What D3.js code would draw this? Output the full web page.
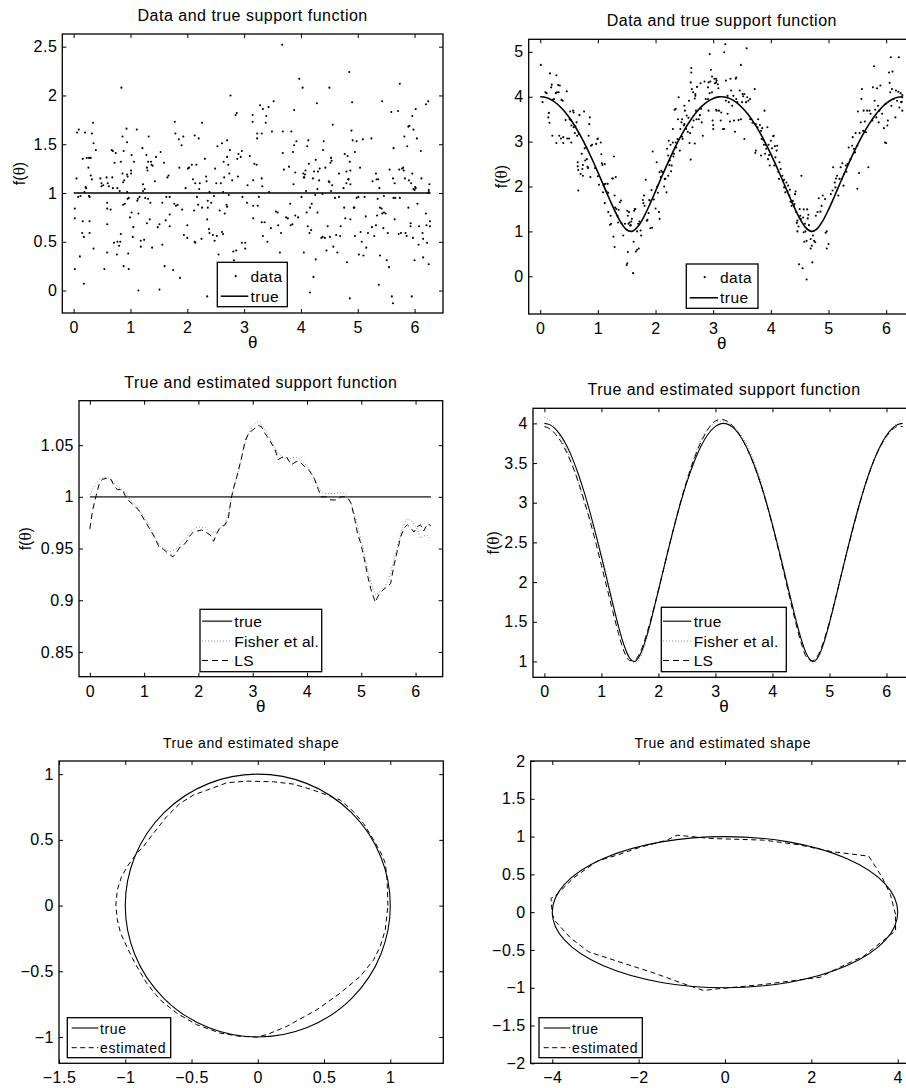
<!DOCTYPE html>
<html><head><meta charset="utf-8">
<script src="https://cdn.jsdelivr.net/npm/d3@7"></script>
<style>
body{margin:0;background:#fff;}
svg text{font-family:"Liberation Sans",Arial,Helvetica,sans-serif;fill:#000;}
</style></head><body>
<script>
// ---------------- DATA ----------------
// Panel 1: noisy data around a unit circle support function (theta, f)
const p1Points = [[0.02,0.84],[0.02,0.74],[0.02,0.22],[0.05,1.15],[0.06,1.62],[0.09,1.65],[0.11,0.35],[0.08,0.96],[0.12,0.97],[0.16,1.35],[0.16,0.71],[0.15,0.59],[0.18,0.55],[0.18,0.07],[0.19,1.01],[0.20,1.62],[0.21,1.06],[0.22,1.05],[0.23,1.36],[0.26,1.26],[0.27,1.36],[0.27,0.97],[0.28,0.96],[0.28,0.71],[0.28,0.59],[0.30,1.36],[0.30,1.18],[0.32,1.14],[0.32,1.61],[0.34,1.72],[0.35,1.51],[0.35,0.43],[0.39,1.44],[0.47,1.15],[0.49,1.10],[0.49,1.07],[0.52,1.08],[0.54,0.22],[0.58,1.16],[0.59,0.90],[0.59,0.84],[0.59,0.68],[0.59,0.39],[0.60,1.10],[0.62,1.07],[0.65,0.83],[0.67,1.44],[0.68,1.16],[0.69,1.43],[0.69,1.05],[0.71,0.49],[0.72,1.31],[0.74,1.41],[0.76,0.37],[0.77,0.50],[0.77,1.05],[0.80,0.46],[0.81,1.02],[0.82,0.50],[0.83,1.32],[0.83,0.58],[0.84,2.08],[0.86,1.58],[0.86,1.20],[0.87,1.11],[0.87,0.88],[0.88,1.43],[0.88,0.25],[0.89,1.13],[0.90,0.89],[0.93,1.66],[0.94,1.52],[0.94,1.01],[0.94,1.19],[0.95,0.94],[0.95,1.17],[0.96,0.38],[0.97,0.22],[0.97,0.95],[0.99,0.75],[1.01,1.23],[1.01,1.20],[1.02,1.39],[1.02,0.80],[1.04,0.55],[1.05,0.65],[1.06,1.32],[1.11,1.65],[1.12,0.92],[1.13,0.94],[1.14,0.00],[1.14,0.79],[1.16,0.96],[1.18,0.45],[1.18,0.51],[1.21,1.46],[1.22,1.02],[1.22,1.09],[1.24,0.52],[1.25,1.04],[1.26,0.95],[1.28,1.39],[1.29,1.26],[1.29,0.69],[1.30,1.23],[1.31,1.32],[1.31,0.94],[1.32,1.58],[1.34,0.73],[1.35,0.90],[1.36,1.32],[1.37,1.29],[1.38,0.44],[1.39,1.28],[1.43,1.12],[1.45,1.37],[1.48,0.65],[1.51,0.01],[1.51,0.68],[1.53,1.42],[1.56,0.90],[1.56,0.47],[1.59,1.31],[1.60,0.25],[1.62,0.72],[1.63,0.96],[1.65,1.16],[1.67,1.18],[1.69,0.78],[1.69,0.96],[1.69,0.66],[1.75,0.21],[1.77,0.89],[1.78,1.73],[1.79,1.61],[1.80,0.87],[1.83,0.88],[1.85,1.55],[1.86,1.26],[1.87,0.13],[1.90,1.49],[1.91,0.83],[1.93,1.58],[1.94,0.57],[1.97,1.05],[2.00,0.54],[2.00,0.67],[2.01,1.25],[2.03,1.26],[2.08,1.29],[2.10,1.14],[2.12,0.82],[2.13,1.59],[2.13,0.50],[2.14,0.49],[2.14,1.10],[2.16,1.29],[2.17,0.96],[2.19,0.88],[2.20,1.56],[2.21,1.04],[2.22,1.10],[2.25,0.53],[2.26,1.72],[2.26,0.85],[2.31,1.35],[2.33,1.17],[2.34,1.12],[2.35,-0.06],[2.35,0.73],[2.36,0.92],[2.36,0.85],[2.38,0.63],[2.39,0.59],[2.39,1.01],[2.42,0.90],[2.45,0.57],[2.47,0.97],[2.48,0.51],[2.49,1.25],[2.51,1.10],[2.52,0.56],[2.53,1.48],[2.55,0.37],[2.57,0.82],[2.59,1.10],[2.61,1.51],[2.61,0.60],[2.63,1.01],[2.63,0.58],[2.64,1.32],[2.65,1.16],[2.66,0.79],[2.69,0.88],[2.70,1.37],[2.70,0.86],[2.70,1.54],[2.72,1.29],[2.73,0.98],[2.74,1.20],[2.75,1.44],[2.76,2.00],[2.79,1.13],[2.81,0.40],[2.82,0.31],[2.85,1.80],[2.86,0.41],[2.87,1.82],[2.88,1.35],[2.89,1.17],[2.90,1.40],[2.94,1.37],[2.96,1.43],[2.96,0.49],[2.97,0.96],[3.02,0.49],[3.02,0.43],[3.05,0.90],[3.06,1.08],[3.10,1.38],
[3.15,1.80],[3.15,1.73],[3.23,1.61],[3.23,1.56],[3.18,1.30],[3.22,1.29],[3.16,1.13],[3.31,1.15],[3.31,1.61],[3.28,1.90],[3.33,1.86],[3.39,1.79],[3.38,1.72],[3.43,1.88],[3.49,1.63],[3.52,1.94],[3.32,1.07],[3.44,1.01],[3.26,0.96],[3.16,0.87],[3.24,0.87],[3.16,0.74],[3.31,0.70],[3.36,0.70],[3.33,0.56],[3.41,0.50],[3.47,0.64],[3.56,0.81],[3.59,0.80],[3.60,0.67],[3.63,0.39],[3.65,0.59],[3.67,2.52],[3.68,1.63],[3.68,1.41],[3.70,1.24],[3.74,0.75],[3.77,0.74],[3.79,1.27],[3.81,0.89],[3.82,0.67],[3.83,1.63],[3.85,0.68],[3.86,1.42],[3.87,1.09],[3.88,1.85],[3.88,1.49],[3.90,0.77],[3.90,1.21],[3.92,1.53],[3.95,0.75],[3.97,2.17],[4.01,0.96],[4.03,2.08],[4.04,1.20],[4.05,1.16],[4.05,0.39],[4.06,1.16],[4.07,1.19],[4.08,1.23],[4.09,1.02],[4.10,0.80],[4.11,1.48],[4.12,0.66],[4.13,1.54],[4.14,1.30],[4.15,0.59],[4.16,-0.02],[4.16,0.85],[4.18,0.62],[4.19,0.89],[4.21,1.15],[4.22,0.14],[4.23,1.22],[4.25,0.98],[4.26,0.32],[4.26,1.34],[4.28,1.92],[4.29,1.04],[4.29,0.80],[4.30,1.22],[4.32,1.13],[4.33,1.25],[4.36,0.54],[4.38,0.99],[4.38,0.55],[4.39,1.44],[4.40,1.53],[4.42,0.54],[4.43,1.26],[4.45,0.41],[4.47,0.66],[4.49,1.12],[4.50,1.11],[4.50,2.08],[4.51,0.55],[4.52,1.31],[4.53,1.02],[4.53,1.36],[4.54,1.33],[4.55,1.08],[4.56,1.70],[4.57,0.45],[4.60,0.95],[4.62,0.57],[4.64,0.39],[4.67,0.96],[4.67,1.20],[4.69,0.56],[4.70,0.66],[4.75,1.05],[4.76,0.85],[4.77,1.40],[4.78,0.74],[4.80,1.10],[4.80,1.22],[4.81,0.29],[4.82,1.38],[4.83,1.14],[4.84,1.14],[4.85,2.24],[4.86,1.32],[4.86,-0.08],[4.87,1.09],[4.87,0.73],[4.87,1.23],[4.89,1.64],[4.90,1.93],[4.91,1.54],[4.93,0.85],[4.94,0.85],[4.95,1.42],[4.95,0.56],[4.98,1.53],[4.98,0.95],[5.01,0.96],[5.02,0.37],[5.04,1.26],[5.05,0.60],[5.07,0.50],[5.09,1.55],[5.10,0.36],[5.12,0.96],[5.14,0.76],[5.15,0.44],[5.18,0.59],[5.24,1.56],[5.25,0.65],[5.26,1.12],[5.29,0.56],[5.32,1.20],[5.32,0.67],[5.33,1.14],[5.34,0.77],[5.35,0.94],[5.36,1.14],[5.37,0.06],[5.38,1.05],[5.39,0.36],[5.39,0.85],[5.42,0.84],[5.43,0.79],[5.43,1.94],[5.45,0.64],[5.46,0.97],[5.46,0.80],[5.49,0.79],[5.51,0.31],[5.53,0.59],[5.55,0.24],[5.56,1.24],[5.59,1.83],[5.60,-0.06],[5.62,1.15],[5.62,-0.13],[5.63,1.46],[5.63,0.95],[5.65,1.10],[5.65,0.73],[5.66,0.95],[5.71,1.84],[5.72,0.58],[5.73,1.24],[5.74,0.95],[5.74,2.12],[5.76,0.59],[5.78,1.25],[5.80,1.26],[5.81,1.23],[5.82,1.58],[5.83,1.15],[5.84,0.59],[5.86,0.56],[5.87,1.48],[5.89,1.68],[5.89,0.85],[5.90,1.13],[5.91,1.69],[5.93,0.66],[5.93,0.69],[5.94,1.10],[5.95,-0.06],[5.96,1.79],[5.96,1.20],[5.97,0.54],[5.98,1.04],[5.98,1.65],[6.00,1.03],[6.00,0.31],[6.01,1.06],[6.02,1.05],[6.02,1.86],[6.04,1.56],[6.05,0.89],[6.07,0.47],[6.08,0.66],[6.11,1.43],[6.12,1.15],[6.14,0.59],[6.15,0.53],[6.15,0.34],[6.20,0.79],[6.20,1.91],[6.21,0.67],[6.22,0.49],[6.24,1.94],[6.24,1.00],[6.25,1.01],[6.25,1.03],[6.26,1.09],[6.27,0.71],[6.27,0.66],[6.25,0.27]];
const p1TrueTheta = [0, 6.2832];
const p1TrueValue = [1, 1];

// Panel 2: noisy data around the support function of a 4x1 ellipse (theta, f)
const p2Points = [[0.01,4.71],[0.04,3.88],[0.09,4.10],[0.11,4.08],[0.14,3.54],[0.15,3.64],[0.16,3.42],[0.17,4.52],[0.19,4.21],[0.20,4.27],[0.21,3.13],[0.22,3.93],[0.24,3.95],[0.27,4.08],[0.28,4.48],[0.28,2.97],[0.29,4.10],[0.31,4.26],[0.32,4.10],[0.33,3.13],[0.34,4.25],[0.36,3.07],[0.37,3.93],[0.39,3.91],[0.40,2.97],[0.40,3.10],[0.44,3.48],[0.46,4.12],[0.47,3.07],[0.50,3.07],[0.51,3.50],[0.52,3.67],[0.53,3.48],[0.54,2.98],[0.54,3.36],[0.57,3.69],[0.58,3.65],[0.58,3.32],[0.60,3.19],[0.61,3.34],[0.63,3.43],[0.64,3.13],[0.65,2.54],[0.65,2.45],[0.66,2.37],[0.66,1.91],[0.67,3.17],[0.68,3.59],[0.70,2.28],[0.72,2.73],[0.73,2.39],[0.74,2.48],[0.74,2.24],[0.76,3.67],[0.77,2.85],[0.78,2.58],[0.80,2.87],[0.81,2.61],[0.82,2.44],[0.83,2.41],[0.84,3.13],[0.85,3.39],[0.86,3.54],[0.87,2.21],[0.88,2.91],[0.90,2.93],[0.95,2.41],[0.97,2.95],[0.99,3.06],[1.00,3.07],[1.00,2.23],[1.02,2.04],[1.05,2.98],[1.06,2.72],[1.07,2.52],[1.08,2.48],[1.09,1.87],[1.10,2.03],[1.11,2.05],[1.12,1.63],[1.12,2.50],[1.13,2.06],[1.15,1.89],[1.17,2.06],[1.18,1.86],[1.18,1.43],[1.21,1.15],[1.22,1.35],[1.23,1.17],[1.25,2.18],[1.26,2.18],[1.27,0.88],[1.28,2.67],[1.29,0.65],[1.29,1.80],[1.30,1.53],[1.31,2.21],[1.32,1.50],[1.34,1.35],[1.35,1.20],[1.36,1.48],[1.38,1.65],[1.40,1.69],[1.41,1.18],[1.44,0.91],[1.47,1.17],[1.50,0.25],[1.51,0.29],[1.51,1.46],[1.52,1.35],[1.52,0.54],[1.53,1.17],[1.54,1.43],[1.55,1.20],[1.56,1.13],[1.57,1.14],[1.58,1.22],[1.59,1.28],[1.61,0.07],[1.62,0.77],[1.63,1.46],[1.64,1.50],[1.65,1.50],[1.66,0.55],[1.68,1.00],[1.68,0.59],[1.70,1.17],[1.71,0.62],[1.72,1.22],[1.74,1.02],[1.75,0.91],[1.78,1.70],[1.79,1.63],[1.80,1.80],[1.81,1.57],[1.83,2.15],[1.85,1.24],[1.86,1.26],[1.88,1.41],[1.89,1.70],[1.90,1.69],[1.91,1.07],[1.93,1.92],[1.94,1.08],[1.95,2.78],[1.97,1.71],[2.00,1.51],[2.02,2.54],[2.03,2.00],[2.04,1.86],[2.06,1.43],[2.07,1.28],[2.07,2.32],[2.09,2.21],[2.10,2.35],[2.12,2.32],[2.15,2.00],[2.16,2.17],[2.17,2.17],[2.19,1.87],[2.20,2.84],[2.22,2.24],[2.22,2.69],[2.23,3.02],[2.24,2.48],[2.25,2.58],[2.26,2.93],[2.27,2.34],[2.28,2.47],[2.30,2.98],[2.30,3.28],[2.31,2.67],[2.32,2.73],[2.33,3.71],[2.34,2.87],[2.35,3.73],[2.35,2.98],[2.36,2.87],[2.38,3.06],[2.39,3.50],[2.40,3.99],[2.42,2.80],[2.43,3.28],[2.45,3.43],[2.46,3.11],[2.46,3.50],[2.47,3.06],[2.49,3.36],[2.50,3.39],[2.50,3.80],[2.51,3.69],[2.53,3.28],[2.54,3.58],[2.56,3.22],[2.57,3.53],[2.58,3.91],[2.59,2.97],[2.60,3.19],[2.61,4.32],[2.61,2.60],[2.62,4.64],[2.62,4.54],[2.63,4.17],[2.64,3.32],[2.65,4.10],[2.66,3.47],[2.68,2.96],[2.68,3.96],[2.69,4.02],[2.69,4.06],[2.70,3.69],[2.71,3.50],[2.72,4.22],[2.75,3.50],[2.77,3.59],[2.78,4.30],[2.79,3.73],[2.80,3.43],[2.82,3.13],[2.85,4.34],[2.87,3.95],[2.91,4.21],[2.91,3.95],[2.92,4.32],[2.92,3.69],[2.94,4.95],[2.94,4.08],[2.95,4.34],[2.96,4.60],[2.98,4.10],[2.98,4.45],[2.99,3.47],[3.00,3.37],[3.00,3.28],[3.02,4.40],[3.03,4.30],[3.05,4.32],[3.05,3.71],
[3.05,4.40],[3.06,4.36],[3.08,4.28],[3.06,3.69],[3.09,4.19],[3.10,3.69],[3.13,3.47],[3.14,3.65],[3.17,3.28],[3.19,3.28],[3.19,4.99],[3.21,5.17],[3.22,4.36],[3.22,3.91],[3.25,4.02],[3.25,3.62],[3.27,3.88],[3.29,3.45],[3.30,4.40],[3.31,4.14],[3.33,3.80],[3.35,4.02],[3.36,3.47],[3.38,3.22],[3.39,4.40],[3.40,4.43],[3.40,3.95],[3.42,3.88],[3.44,3.48],[3.46,4.14],[3.48,3.50],[3.48,4.71],[3.50,3.88],[3.51,4.06],[3.52,4.01],[3.54,4.06],[3.54,3.06],[3.57,3.88],[3.58,5.08],[3.59,3.99],[3.61,3.91],[3.64,3.95],[3.64,3.50],[3.68,3.42],[3.72,4.17],[3.73,2.75],[3.74,2.80],[3.74,3.39],[3.77,3.32],[3.78,3.50],[3.81,3.37],[3.83,2.69],[3.83,3.24],[3.84,3.06],[3.85,3.30],[3.87,3.04],[3.88,2.93],[3.89,3.69],[3.90,2.73],[3.91,2.93],[3.92,2.84],[3.94,3.32],[3.95,2.61],[3.96,2.93],[3.97,2.70],[3.98,2.47],[4.00,3.02],[4.02,2.85],[4.04,3.12],[4.05,3.13],[4.06,2.47],[4.07,2.90],[4.08,2.65],[4.10,2.80],[4.11,2.91],[4.13,2.33],[4.14,2.17],[4.15,2.54],[4.17,2.39],[4.20,2.24],[4.21,2.13],[4.23,1.98],[4.23,2.15],[4.25,1.87],[4.27,2.09],[4.29,1.89],[4.30,2.02],[4.32,1.80],[4.33,1.93],[4.34,1.66],[4.36,1.57],[4.37,1.65],[4.38,1.68],[4.40,1.57],[4.41,1.61],[4.42,1.83],[4.43,1.89],[4.44,1.43],[4.45,1.19],[4.46,1.24],[4.46,1.00],[4.48,1.11],[4.49,0.27],[4.50,1.50],[4.51,1.35],[4.52,1.28],[4.53,2.24],[4.55,0.18],[4.56,1.31],[4.57,1.49],[4.57,0.98],[4.58,0.77],[4.59,1.17],[4.60,1.00],[4.62,0.79],[4.62,-0.07],[4.63,1.49],[4.64,1.29],[4.65,1.37],[4.66,1.14],[4.69,0.83],[4.69,0.62],[4.71,0.68],[4.72,0.31],[4.73,0.91],[4.75,0.79],[4.77,0.76],[4.78,1.35],[4.81,1.43],[4.83,1.74],[4.86,1.44],[4.88,1.57],[4.90,1.80],[4.94,1.72],[4.95,0.97],[4.97,1.00],[4.97,0.62],[5.00,0.72],[5.04,1.83],[5.07,1.91],[5.08,2.43],[5.11,2.09],[5.12,1.98],[5.13,2.18],[5.15,2.24],[5.17,1.80],[5.19,2.17],[5.21,2.43],[5.23,2.17],[5.24,2.52],[5.26,2.02],[5.27,2.28],[5.30,2.47],[5.31,2.33],[5.33,2.50],[5.35,2.87],[5.38,2.61],[5.41,2.91],[5.42,3.10],[5.44,2.84],[5.46,2.76],[5.47,3.19],[5.50,2.91],[5.50,1.95],[5.51,3.67],[5.53,2.30],[5.54,3.19],[5.56,3.43],[5.57,3.95],[5.58,4.17],[5.60,3.24],[5.61,3.69],[5.63,3.45],[5.65,3.21],[5.67,3.69],[5.69,2.43],[5.71,3.69],[5.73,3.62],[5.76,3.47],[5.77,4.21],[5.79,4.68],[5.80,3.91],[5.81,3.71],[5.83,3.54],[5.84,4.19],[5.86,3.80],[5.87,3.43],[5.88,3.69],[5.90,4.25],[5.93,3.62],[5.96,3.30],[5.98,2.98],[5.99,3.84],[6.00,2.97],[6.02,3.36],[6.03,3.47],[6.05,4.54],[6.06,4.31],[6.07,4.10],[6.08,4.88],[6.09,3.80],[6.10,4.17],[6.11,4.56],[6.13,3.95],[6.16,3.54],[6.17,4.14],[6.19,3.91],[6.21,4.11],[6.22,4.88],[6.23,3.76],[6.25,4.08],[6.26,3.88],[6.27,3.89],[6.28,3.99],[6.28,4.04],[6.28,3.69]];

// True support function of the 4x1 ellipse, read at these angles (panels 2 and 4)
const ellTheta = [0,0.1,0.2,0.3,0.4,0.5,0.6,0.7,0.8,0.9,1.0,1.1,1.2,1.3,1.4,1.5,1.5708,1.6,1.7,1.8,1.9,2.0,2.1,2.2,2.3,2.4,2.5,2.6,2.7,2.8,2.9,3.0,3.1,3.1416,3.2,3.3,3.4,3.5,3.6,3.7,3.8,3.9,4.0,4.1,4.2,4.3,4.4,4.5,4.6,4.7,4.7124,4.8,4.9,5.0,5.1,5.2,5.3,5.4,5.5,5.6,5.7,5.8,5.9,6.0,6.1,6.2,6.2832];
const ellTrue = [4.000,3.981,3.925,3.833,3.705,3.543,3.349,3.127,2.878,2.607,2.319,2.021,1.723,1.440,1.197,1.037,1.000,1.006,1.118,1.332,1.602,1.897,2.196,2.489,2.768,3.026,3.260,3.466,3.642,3.784,3.891,3.962,3.997,4.000,3.994,3.953,3.876,3.762,3.614,3.434,3.223,2.984,2.722,2.440,2.146,1.847,1.554,1.291,1.090,1.001,1.000,1.056,1.234,1.486,1.773,2.072,2.369,2.654,2.921,3.166,3.384,3.572,3.729,3.851,3.938,3.987,4.000];

// Panel 3: estimated support functions for the circle
const p3LsTheta = [0,0.05,0.11,0.17,0.23,0.32,0.39,0.45,0.51,0.60,0.66,0.72,0.81,0.90,1.00,1.09,1.18,1.27,1.36,1.45,1.53,1.58,1.67,1.76,1.85,1.91,1.99,2.06,2.16,2.22,2.28,2.34,2.40,2.49,2.55,2.60,2.64,2.71,2.80,2.86,2.93,3.01,3.10,3.16,3.22,3.32,3.41,3.47,3.53,3.62,3.71,3.80,3.87,3.96,4.05,4.14,4.21,4.26,4.35,4.44,4.54,4.63,4.69,4.75,4.81,4.87,4.93,4.99,5.06,5.12,5.18,5.26,5.30,5.36,5.45,5.54,5.60,5.67,5.73,5.79,5.85,5.91,5.97,6.03,6.09,6.15,6.22,6.28];
const p3Ls = [0.969,0.987,1.000,1.012,1.017,1.018,1.017,1.010,1.007,1.007,1.000,0.996,0.992,0.987,0.978,0.970,0.962,0.952,0.949,0.945,0.942,0.945,0.952,0.955,0.963,0.966,0.967,0.968,0.965,0.963,0.957,0.965,0.970,0.973,0.979,0.997,1.007,1.020,1.039,1.054,1.062,1.065,1.069,1.068,1.062,1.054,1.046,1.036,1.038,1.039,1.031,1.034,1.034,1.029,1.025,1.017,1.007,1.000,1.000,0.997,0.997,1.000,1.000,0.999,0.994,0.981,0.965,0.955,0.939,0.923,0.910,0.898,0.903,0.908,0.912,0.916,0.933,0.949,0.962,0.970,0.973,0.970,0.966,0.971,0.973,0.967,0.974,0.972];
const p3FiTheta = [0,0.08,0.17,0.26,0.35,0.45,0.54,0.66,0.75,0.84,0.93,1.03,1.12,1.21,1.30,1.39,1.48,1.58,1.67,1.76,1.85,1.94,2.03,2.13,2.22,2.31,2.40,2.49,2.56,2.61,2.67,2.74,2.81,2.89,2.98,3.07,3.13,3.19,3.28,3.38,3.47,3.56,3.65,3.74,3.83,3.93,4.02,4.11,4.20,4.29,4.38,4.48,4.57,4.66,4.74,4.81,4.88,4.96,5.04,5.12,5.19,5.27,5.33,5.42,5.51,5.60,5.68,5.76,5.85,5.94,6.02,6.09,6.15,6.22,6.28];
const p3Fi = [1.002,1.010,1.017,1.019,1.018,1.013,1.009,1.004,0.997,0.992,0.986,0.978,0.970,0.960,0.952,0.949,0.947,0.949,0.955,0.960,0.966,0.970,0.971,0.970,0.966,0.966,0.970,0.975,0.984,1.000,1.013,1.026,1.042,1.057,1.067,1.072,1.073,1.068,1.060,1.050,1.042,1.038,1.036,1.038,1.038,1.034,1.028,1.020,1.010,1.004,1.003,1.003,1.004,1.004,1.001,0.994,0.983,0.966,0.949,0.929,0.915,0.905,0.908,0.912,0.920,0.939,0.955,0.971,0.979,0.976,0.970,0.960,0.962,0.963,0.958];
const p3TrueTheta = [0, 6.2832];
const p3TrueValue = [1, 1];

// Panel 4: estimated support functions for the ellipse
const p4EstTheta = [0,0.1,0.2,0.3,0.4,0.5,0.6,0.7,0.8,0.9,1.0,1.1,1.2,1.3,1.4,1.5,1.6,1.7,1.8,1.9,2.0,2.1,2.2,2.3,2.4,2.5,2.6,2.7,2.8,2.9,3.0,3.1,3.2,3.3,3.4,3.5,3.6,3.7,3.8,3.9,4.0,4.1,4.2,4.3,4.4,4.5,4.6,4.7,4.8,4.9,5.0,5.1,5.2,5.3,5.4,5.5,5.6,5.7,5.8,5.9,6.0,6.1,6.2,6.2832];
const p4Ls = [3.96,3.93,3.86,3.76,3.62,3.45,3.25,3.02,2.77,2.50,2.21,1.92,1.63,1.35,1.12,1.01,1.03,1.15,1.36,1.62,1.90,2.19,2.49,2.77,3.04,3.28,3.50,3.69,3.84,3.96,4.03,4.05,4.03,3.97,3.88,3.76,3.61,3.43,3.22,2.98,2.71,2.42,2.12,1.81,1.51,1.24,1.05,1.01,1.08,1.26,1.50,1.78,2.07,2.36,2.64,2.91,3.16,3.38,3.57,3.72,3.84,3.92,3.96,3.96];
const p4Fi = [4.08,4.03,3.93,3.80,3.65,3.47,3.24,2.98,2.80,2.60,2.36,2.06,1.75,1.45,1.18,1.02,0.98,1.08,1.30,1.58,1.88,2.18,2.47,2.76,3.03,3.30,3.52,3.72,3.86,3.95,4.01,4.03,4.02,3.98,3.90,3.80,3.66,3.48,3.26,3.01,2.74,2.46,2.17,1.87,1.57,1.30,1.08,0.98,1.04,1.22,1.47,1.76,2.06,2.35,2.63,2.90,3.15,3.37,3.55,3.70,3.82,3.93,4.02,4.05];

// Panels 5 and 6: true shapes (semi-axes a, b) and estimated polygon outlines
const p5TrueAxes = [1, 1];
const p5Est = [[0.982,0],[0.975,0.22],[0.96,0.33],[0.93,0.40],[0.874,0.499],[0.798,0.625],[0.723,0.714],[0.622,0.803],[0.509,0.846],[0.421,0.878],[0.27,0.924],[0.118,0.942],[-0.083,0.947],[-0.234,0.934],[-0.385,0.878],[-0.486,0.841],[-0.587,0.777],[-0.688,0.676],[-0.788,0.549],[-0.864,0.448],[-0.914,0.397],[-0.977,0.309],[-1.028,0.22],[-1.06,0.118],[-1.071,0],[-1.06,-0.108],[-1.035,-0.21],[-0.977,-0.337],[-0.927,-0.438],[-0.839,-0.59],[-0.738,-0.716],[-0.612,-0.818],[-0.461,-0.906],[-0.285,-0.97],[-0.134,-0.995],[-0.008,-1.0],[0.068,-0.982],[0.219,-0.919],[0.446,-0.792],[0.622,-0.666],[0.773,-0.539],[0.874,-0.413],[0.924,-0.311],[0.962,-0.185]];
const p6TrueAxes = [4, 1];
const p6Est = [[3.95,-0.03],[3.83,0.234],[3.63,0.47],[3.328,0.741],[2.48,0.80],[1.668,0.895],[0.896,0.953],[-0.34,0.975],[-1.112,1.019],[-1.344,0.953],[-1.961,0.86],[-2.502,0.754],[-2.965,0.675],[-3.506,0.454],[-3.892,0.234],[-4.03,0.181],[-4.0,-0.03],[-3.93,-0.12],[-3.58,-0.34],[-3.158,-0.525],[-2.502,-0.648],[-1.653,-0.803],[-0.958,-0.948],[-0.494,-1.037],[-0.185,-1.015],[0.896,-0.957],[1.668,-0.9],[2.208,-0.86],[2.44,-0.79],[2.826,-0.684],[3.212,-0.582],[3.598,-0.406],[3.83,-0.30],[3.95,-0.25]];

// Tick values
const thetaTicks = [0,1,2,3,4,5,6];
const p1YTicks = [0,0.5,1,1.5,2,2.5];
const p2YTicks = [0,1,2,3,4,5];
const p3YTicks = [0.85,0.9,0.95,1,1.05];
const p4YTicks = [1,1.5,2,2.5,3,3.5,4];
const p5XTicks = [-1.5,-1,-0.5,0,0.5,1];
const p5YTicks = [-1,-0.5,0,0.5,1];
const p6XTicks = [-4,-2,0,2,4];
const p6YTicks = [-2,-1.5,-1,-0.5,0,0.5,1,1.5,2];

// ---------------- DRAWING ----------------
const W = 906, H = 1088;
const FONT = '"Liberation Sans",Arial,Helvetica,sans-serif';
const SERIF = '"Liberation Serif","Times New Roman",serif';
const svg = d3.select("body").append("svg").attr("width", W).attr("height", H);
svg.append("rect").attr("width", W).attr("height", H).attr("fill", "#fff");
const defs = svg.append("defs");
const fmt = v => String(Math.round(v * 1e4) / 1e4).replace("-", "\u2212");

function panel(o) {
  const g = svg.append("g");
  const x = d3.scaleLinear().domain(o.xDomain).range([o.box.l, o.box.r]);
  const y = d3.scaleLinear().domain(o.yDomain).range([o.box.b, o.box.t]);
  defs.append("clipPath").attr("id", "clip" + o.id).append("rect")
    .attr("x", o.box.l).attr("y", o.box.t)
    .attr("width", o.box.r - o.box.l).attr("height", o.box.b - o.box.t);
  const plot = g.append("g").attr("clip-path", `url(#clip${o.id})`);

  const style = s => {
    s.select(".domain").remove();
    s.attr("font-family", FONT).attr("font-size", 16);
    s.selectAll(".tick line").attr("stroke", "#000").attr("stroke-width", 1);
    s.selectAll(".tick text").style("letter-spacing", "0.5px");
  };
  g.append("g").attr("transform", `translate(0,${o.box.b})`)
    .call(d3.axisBottom(x).tickValues(o.xTicks).tickSize(-4).tickPadding(8.6).tickFormat(fmt)).call(style);
  g.append("g").attr("transform", `translate(0,${o.box.t})`)
    .call(d3.axisTop(x).tickValues(o.xTicks).tickSize(-4).tickFormat("")).call(style);
  g.append("g").attr("transform", `translate(${o.box.l},0)`)
    .call(d3.axisLeft(y).tickValues(o.yTicks).tickSize(-4).tickPadding(5).tickFormat(fmt)).call(style);
  g.append("g").attr("transform", `translate(${o.box.r},0)`)
    .call(d3.axisRight(y).tickValues(o.yTicks).tickSize(-4).tickFormat("")).call(style);

  g.append("rect").attr("x", o.box.l).attr("y", o.box.t)
    .attr("width", o.box.r - o.box.l).attr("height", o.box.b - o.box.t)
    .attr("fill", "none").attr("stroke", "#000").attr("stroke-width", 1.3);

  g.append("text").attr("x", (o.box.l + o.box.r) / 2).attr("y", o.box.t - 13)
    .attr("text-anchor", "middle").attr("font-size", o.titleSize)
    .style("letter-spacing", o.titleSpacing).text(o.title);

  if (o.xlabel) {
    g.append("text").attr("x", (o.box.l + o.box.r) / 2).attr("y", o.box.b + 35)
      .attr("text-anchor", "middle").attr("font-family", SERIF).attr("font-size", 17).text("\u03b8");
  }
  if (o.ylabel) {
    const cy = (o.box.t + o.box.b) / 2, cx = o.box.l - o.ylabelOffset;
    const t = g.append("text").attr("transform", `translate(${cx},${cy}) rotate(-90)`)
      .attr("text-anchor", "middle").attr("font-size", 16);
    t.append("tspan").text("f(");
    t.append("tspan").attr("font-family", SERIF).attr("font-size", 17).text("\u03b8");
    t.append("tspan").text(")");
  }
  return { g, plot, x, y };
}

function legend(g, L) {
  const lg = g.append("g");
  lg.append("rect").attr("x", L.x).attr("y", L.y).attr("width", L.w).attr("height", L.h)
    .attr("fill", "#fff").attr("stroke", "#000").attr("stroke-width", 1.3);
  L.items.forEach((it, i) => {
    const base = L.baselines[i], ly = base - 5.5;
    if (it.type === "dot") {
      lg.append("circle").attr("cx", L.dotX).attr("cy", ly).attr("r", 1.1).attr("fill", "#000");
    } else {
      lg.append("line").attr("x1", L.x0).attr("x2", L.x1).attr("y1", ly).attr("y2", ly)
        .attr("stroke", it.stroke).attr("stroke-width", it.width)
        .attr("stroke-dasharray", it.dash || null);
    }
    lg.append("text").attr("x", L.tx).attr("y", base).attr("font-size", L.fs)
      .style("letter-spacing", L.ls).text(it.label);
  });
}

const zip = (a, b) => a.map((v, i) => [v, b[i]]);

// ---- Panel 1
{
  const P = panel({ id: 1, box: { l: 62.3, r: 443, t: 34, b: 313 }, xDomain: [-0.2, 6.5], yDomain: [-0.23, 2.63],
    xTicks: thetaTicks, yTicks: p1YTicks, title: "Data and true support function", titleSize: 16, titleSpacing: "0.5px",
    xlabel: true, ylabel: true, ylabelOffset: 37 });
  P.plot.selectAll("circle").data(p1Points).join("circle")
    .attr("cx", d => P.x(d[0])).attr("cy", d => P.y(d[1])).attr("r", 1.05).attr("fill", "#000");
  P.plot.append("path").datum(zip(p1TrueTheta, p1TrueValue))
    .attr("d", d3.line().x(d => P.x(d[0])).y(d => P.y(d[1])))
    .attr("fill", "none").attr("stroke", "#000").attr("stroke-width", 1.6);
  legend(P.g, { x: 217.3, y: 262.3, w: 70, h: 44.4, dotX: 235.7, x0: 220.7, x1: 248.3, tx: 250.5, fs: 15.5, ls: "0.5px",
    baselines: [281.7, 301.7], items: [{ type: "dot", label: "data" }, { label: "true", stroke: "#000", width: 1.5 }] });
}

// ---- Panel 2
{
  const P = panel({ id: 2, box: { l: 528.7, r: 915, t: 39.3, b: 314 }, xDomain: [-0.2, 6.5], yDomain: [-0.84, 5.28],
    xTicks: thetaTicks, yTicks: p2YTicks, title: "Data and true support function", titleSize: 16, titleSpacing: "0.5px",
    xlabel: true, ylabel: true, ylabelOffset: 22 });
  P.plot.selectAll("circle").data(p2Points).join("circle")
    .attr("cx", d => P.x(d[0])).attr("cy", d => P.y(d[1])).attr("r", 1.05).attr("fill", "#000");
  P.plot.append("path").datum(zip(ellTheta, ellTrue))
    .attr("d", d3.line().x(d => P.x(d[0])).y(d => P.y(d[1])).curve(d3.curveMonotoneX))
    .attr("fill", "none").attr("stroke", "#000").attr("stroke-width", 1.6);
  legend(P.g, { x: 686.3, y: 264, w: 71.7, h: 44.3, dotX: 704.7, x0: 689.7, x1: 718, tx: 720, fs: 15.5, ls: "0.5px",
    baselines: [282.7, 303.3], items: [{ type: "dot", label: "data" }, { label: "true", stroke: "#000", width: 1.5 }] });
}

// ---- Panel 3
{
  const P = panel({ id: 3, box: { l: 79, r: 442.7, t: 400.7, b: 676.7 }, xDomain: [-0.2, 6.5], yDomain: [0.826, 1.093],
    xTicks: thetaTicks, yTicks: p3YTicks, title: "True and estimated support function", titleSize: 16, titleSpacing: "0.5px",
    xlabel: true, ylabel: true, ylabelOffset: 48 });
  const line = d3.line().x(d => P.x(d[0])).y(d => P.y(d[1]));
  P.plot.append("path").datum(zip(p3TrueTheta, p3TrueValue)).attr("d", line)
    .attr("fill", "none").attr("stroke", "#555").attr("stroke-width", 1.8);
  P.plot.append("path").datum(zip(p3FiTheta, p3Fi)).attr("d", line)
    .attr("fill", "none").attr("stroke", "#8a8a8a").attr("stroke-width", 1).attr("stroke-dasharray", "1,2");
  P.plot.append("path").datum(zip(p3LsTheta, p3Ls)).attr("d", line)
    .attr("fill", "none").attr("stroke", "#000").attr("stroke-width", 1).attr("stroke-dasharray", "6,4");
  legend(P.g, { x: 200, y: 609.3, w: 121.7, h: 62.4, x0: 202, x1: 232.3, tx: 234.3, fs: 15.5, ls: "0.3px",
    baselines: [626.7, 646.5, 666],
    items: [{ label: "true", stroke: "#555", width: 1.8 }, { label: "Fisher et al.", stroke: "#8a8a8a", width: 1, dash: "1,2" },
            { label: "LS", stroke: "#000", width: 1, dash: "6,4" }] });
}

// ---- Panel 4
{
  const P = panel({ id: 4, box: { l: 533, r: 915, t: 408.3, b: 677.3 }, xDomain: [-0.2, 6.5], yDomain: [0.80, 4.19],
    xTicks: thetaTicks, yTicks: p4YTicks, title: "True and estimated support function", titleSize: 16, titleSpacing: "0.5px",
    xlabel: true, ylabel: true, ylabelOffset: 34 });
  const line = d3.line().x(d => P.x(d[0])).y(d => P.y(d[1])).curve(d3.curveMonotoneX);
  P.plot.append("path").datum(zip(p4EstTheta, p4Fi)).attr("d", line)
    .attr("fill", "none").attr("stroke", "#8a8a8a").attr("stroke-width", 1).attr("stroke-dasharray", "1,2");
  P.plot.append("path").datum(zip(ellTheta, ellTrue)).attr("d", line)
    .attr("fill", "none").attr("stroke", "#000").attr("stroke-width", 1.1);
  P.plot.append("path").datum(zip(p4EstTheta, p4Ls)).attr("d", line)
    .attr("fill", "none").attr("stroke", "#000").attr("stroke-width", 1).attr("stroke-dasharray", "6,4");
  legend(P.g, { x: 661.3, y: 607.3, w: 125, h: 64.4, x0: 663, x1: 691.3, tx: 693.7, fs: 15.5, ls: "0.3px",
    baselines: [626.7, 646.5, 666],
    items: [{ label: "true", stroke: "#000", width: 1.1 }, { label: "Fisher et al.", stroke: "#8a8a8a", width: 1, dash: "1,2" },
            { label: "LS", stroke: "#000", width: 1, dash: "6,4" }] });
}

// ---- Panel 5
{
  const P = panel({ id: 5, box: { l: 59, r: 443.3, t: 761, b: 1063.3 }, xDomain: [-1.5, 1.4], yDomain: [-1.2, 1.1],
    xTicks: p5XTicks, yTicks: p5YTicks, title: "True and estimated shape", titleSize: 14, titleSpacing: "0.6px",
    xlabel: false, ylabel: false });
  P.plot.append("ellipse").attr("cx", P.x(0)).attr("cy", P.y(0))
    .attr("rx", P.x(p5TrueAxes[0]) - P.x(0)).attr("ry", P.y(0) - P.y(p5TrueAxes[1]))
    .attr("fill", "none").attr("stroke", "#000").attr("stroke-width", 1.1);
  P.plot.append("path").datum(p5Est)
    .attr("d", d3.line().x(d => P.x(d[0])).y(d => P.y(d[1])).curve(d3.curveLinearClosed))
    .attr("fill", "none").attr("stroke", "#000").attr("stroke-width", 1).attr("stroke-dasharray", "5,3.5");
  legend(P.g, { x: 67.3, y: 1017.7, w: 103.4, h: 40, x0: 71.7, x1: 98.3, tx: 100, fs: 14, ls: "0.6px",
    baselines: [1033.5, 1053.2],
    items: [{ label: "true", stroke: "#000", width: 1.1 }, { label: "estimated", stroke: "#000", width: 1, dash: "5,3.5" }] });
}

// ---- Panel 6
{
  const P = panel({ id: 6, box: { l: 530.7, r: 915, t: 761, b: 1063.3 }, xDomain: [-4.5, 4.4], yDomain: [-2, 2],
    xTicks: p6XTicks, yTicks: p6YTicks, title: "True and estimated shape", titleSize: 14, titleSpacing: "0.6px",
    xlabel: false, ylabel: false });
  P.plot.append("ellipse").attr("cx", P.x(0)).attr("cy", P.y(0))
    .attr("rx", P.x(p6TrueAxes[0]) - P.x(0)).attr("ry", P.y(0) - P.y(p6TrueAxes[1]))
    .attr("fill", "none").attr("stroke", "#000").attr("stroke-width", 1.1);
  P.plot.append("path").datum(p6Est)
    .attr("d", d3.line().x(d => P.x(d[0])).y(d => P.y(d[1])).curve(d3.curveLinearClosed))
    .attr("fill", "none").attr("stroke", "#000").attr("stroke-width", 1).attr("stroke-dasharray", "5,3.5");
  legend(P.g, { x: 539, y: 1017.7, w: 103.3, h: 40, x0: 543.7, x1: 570.3, tx: 572, fs: 14, ls: "0.6px",
    baselines: [1033.5, 1053.2],
    items: [{ label: "true", stroke: "#000", width: 1.1 }, { label: "estimated", stroke: "#000", width: 1, dash: "5,3.5" }] });
}
</script>
</body></html>
